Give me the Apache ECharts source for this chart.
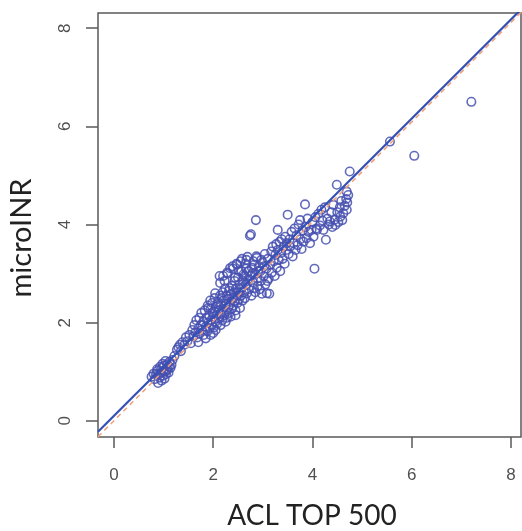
<!DOCTYPE html>
<html>
<head>
<meta charset="utf-8">
<script src="https://cdn.jsdelivr.net/npm/echarts@6/dist/echarts.min.js"></script>
<style>
html,body{margin:0;padding:0;background:#fff;}
#chart{width:522px;height:531px;}
</style>
</head>
<body>
<div id="chart"></div>
<script>
// ACL TOP 500 (x) vs microINR (y)
const aclValues = [
0.76,0.89,0.82,0.85,0.88,0.92,0.95,0.97,0.99,1.01,1.03,1.05,1.07,1.08,1.10,1.12,0.93,0.96,1.00,1.04,1.14,1.16,0.80,0.90,1.02,1.18,0.98,1.06,1.11,0.87,
1.22,1.27,1.30,1.35,1.38,1.42,1.45,1.48,1.52,1.55,1.58,1.33,
1.60,1.62,1.64,1.66,1.68,1.70,1.72,1.73,1.75,1.76,1.78,1.80,1.81,1.83,1.85,1.86,1.88,1.89,1.90,1.92,1.93,1.95,1.96,1.97,1.98,2.00,2.01,2.02,2.03,2.05,2.06,2.07,2.08,2.10,2.11,2.12,2.14,2.14,2.15,2.16,2.18,2.19,2.20,2.21,2.22,2.24,2.25,2.26,2.27,2.28,2.30,2.31,2.32,2.33,2.34,2.35,2.36,2.37,2.38,2.40,2.41,2.42,2.43,2.44,2.45,2.46,2.48,2.49,2.50,2.51,2.52,2.53,2.54,2.55,2.56,2.57,2.58,2.59,2.60,2.62,
1.95,2.05,2.15,2.25,2.35,2.45,2.00,1.70,1.85,2.20,2.28,2.40,2.48,2.55,
1.90,1.94,1.99,2.04,2.09,2.13,2.17,2.23,2.29,2.33,2.39,2.44,2.47,2.52,2.58,2.61,2.66,2.69,2.73,2.79,2.83,2.91,2.97,3.03,3.09,
2.63,2.64,2.65,2.66,2.67,2.68,2.70,2.71,2.72,2.74,2.75,2.76,2.77,2.78,2.80,2.81,2.82,2.84,2.85,2.86,2.87,2.88,2.89,2.90,2.92,2.94,2.95,2.96,2.98,3.00,3.02,3.04,3.05,3.07,3.08,3.10,3.12,3.13,3.15,3.17,3.18,3.20,3.22,3.24,3.25,3.27,3.28,3.30,3.30,3.32,3.34,3.35,3.37,3.38,3.40,3.42,3.44,3.45,3.47,3.48,
3.50,3.52,3.54,3.55,3.58,3.60,3.62,3.64,3.66,3.68,3.70,3.72,3.75,3.76,3.78,3.80,3.82,3.85,3.86,3.88,3.90,3.92,3.95,3.98,4.00,4.02,4.04,4.06,4.08,4.09,4.12,4.15,4.18,4.20,4.22,4.25,4.27,4.30,4.33,4.35,4.38,4.40,4.42,4.45,4.46,4.49,4.50,4.52,4.55,4.56,4.58,4.60,4.62,4.65,4.68,4.69,4.69,4.70,4.72,4.75,
5.56,6.05,7.20
];
const microInrValues = [
0.90,0.77,0.85,0.95,1.02,0.88,0.98,1.08,0.92,1.12,1.00,0.95,1.15,1.05,0.98,1.20,1.10,0.82,1.02,1.22,1.08,1.14,0.96,0.94,0.86,1.24,1.16,1.02,1.10,1.05,
1.32,1.45,1.50,1.42,1.60,1.55,1.70,1.62,1.75,1.58,1.85,1.55,
1.72,1.95,1.80,2.05,1.70,1.88,2.10,1.78,1.95,2.20,1.85,2.02,1.75,2.25,1.92,2.10,1.82,2.35,2.00,2.15,1.88,2.28,2.05,1.95,2.40,2.12,1.90,2.22,2.50,2.02,2.32,2.15,1.98,2.42,2.25,2.08,2.81,2.55,2.18,2.35,2.05,2.62,2.28,2.45,2.15,2.70,2.38,2.22,2.55,2.10,2.48,2.32,2.65,2.20,3.11,2.42,2.58,2.28,2.75,2.50,2.35,2.62,2.85,2.45,2.25,2.70,2.55,2.40,2.92,2.62,2.48,2.78,2.30,2.68,2.55,3.05,2.72,2.45,2.85,2.62,
1.75,1.85,1.95,2.02,2.12,2.15,1.79,1.60,1.68,2.95,3.02,3.10,3.18,3.25,
2.30,2.45,2.20,2.60,2.38,2.95,2.50,2.85,3.00,2.70,3.15,2.92,3.20,3.05,3.30,2.98,3.10,3.34,2.88,3.00,3.18,3.05,3.28,3.15,2.85,
2.95,2.50,3.20,2.78,3.28,2.60,2.88,3.05,2.68,3.77,2.95,3.80,2.55,3.12,2.82,3.25,2.70,3.00,2.62,4.09,3.35,3.32,2.90,2.75,3.15,2.68,3.05,2.85,2.59,3.22,2.95,3.40,2.78,3.10,2.60,3.30,2.90,2.59,3.18,3.45,3.02,3.55,3.25,2.95,3.38,3.60,3.12,3.89,3.48,3.28,3.65,3.05,3.42,3.70,3.30,3.55,3.20,3.75,3.48,3.62,
4.20,3.40,3.70,3.55,3.85,3.35,3.62,3.92,3.48,3.78,3.58,4.00,4.09,3.70,3.50,3.88,3.65,4.41,3.95,3.72,4.12,3.85,3.62,3.89,4.05,3.75,3.10,4.15,3.92,3.89,4.22,3.98,4.30,4.08,3.89,4.35,3.69,4.12,4.00,4.06,4.25,3.95,4.40,4.10,3.99,4.81,4.25,4.05,4.35,4.16,4.48,4.09,4.23,4.38,4.52,4.30,4.67,4.45,4.60,5.08,
5.69,5.40,6.50
];
const xTicks = [0, 2, 4, 6, 8];
const yTicks = [0, 2, 4, 6, 8];
const xRange = [-0.32, 8.2];
const yRange = [-0.33, 8.31];
const fitCoef = [0.1, 1.01];        // intercept, slope of fitted line (blue, solid)
const referenceCoef = [0, 1.015];   // intercept, slope of reference line (orange, dashed)

const points = aclValues.map((x, i) => [x, microInrValues[i]]);
const lineFrom = c => xRange.map(x => [x, c[0] + c[1] * x]);

const chart = echarts.init(document.getElementById('chart'), null, {renderer: 'canvas'});
const tickLabelStyle = {color: '#505050', fontSize: 17, fontFamily: 'Liberation Sans, Arial, sans-serif'};
chart.setOption({
  animation: false,
  backgroundColor: '#fff',
  grid: {left: 98, top: 13, right: 1, bottom: 94, show: true, borderColor: '#5a5a5a', borderWidth: 1.5, backgroundColor: 'transparent'},
  xAxis: {
    type: 'value', min: xRange[0], max: xRange[1],
    axisLine: {show: false, onZero: false},
    splitLine: {show: false},
    axisTick: {show: true, inside: false, length: 11, customValues: xTicks, lineStyle: {color: '#5a5a5a', width: 1.5}},
    axisLabel: Object.assign({customValues: xTicks, margin: 30}, tickLabelStyle)
  },
  yAxis: {
    type: 'value', min: yRange[0], max: yRange[1],
    axisLine: {show: false, onZero: false},
    splitLine: {show: false},
    axisTick: {show: true, inside: false, length: 12, customValues: yTicks, lineStyle: {color: '#5a5a5a', width: 1.5}},
    axisLabel: Object.assign({customValues: yTicks, margin: 24, rotate: 90}, tickLabelStyle)
  },
  graphic: [
    {type: 'text', x: 312, y: 516, style: {text: 'ACL TOP 500', font: '28px Lato', fill: '#222', textAlign: 'center', textVerticalAlign: 'middle'}},
    {type: 'text', x: 22, y: 238, rotation: Math.PI / 2, style: {text: 'microINR', font: '29px Lato', fill: '#222', textAlign: 'center', textVerticalAlign: 'middle'}}
  ],
  series: [
    {
      type: 'scatter', data: points, symbol: 'circle', symbolSize: 8.5,
      itemStyle: {color: 'transparent', borderColor: '#4650b0', borderWidth: 1.6, opacity: 0.85},
      z: 2
    },
    {
      type: 'line', data: lineFrom(referenceCoef), symbol: 'none',
      lineStyle: {color: '#f2a07a', width: 1.5, type: [5, 4]}, z: 3
    },
    {
      type: 'line', data: lineFrom(fitCoef), symbol: 'none',
      lineStyle: {color: '#3550b5', width: 2.2}, z: 4
    }
  ]
});
</script>
</body>
</html>
